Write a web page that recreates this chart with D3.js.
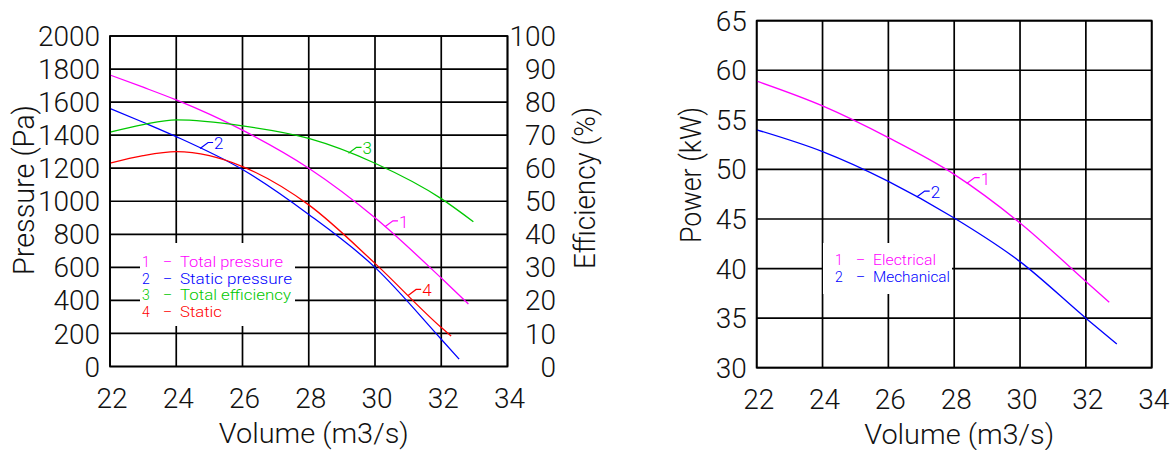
<!DOCTYPE html>
<html>
  <head>
    <script src="https://d3js.org/d3.v7.min.js"></script>
    <style>
      body { margin: 0; background-color: #fff; }
      text { font-family: Roboto, 'Liberation Sans', sans-serif; font-weight: 300; }
    </style>
  </head>
  <body>
    <svg id="canvas" width="1176" height="450"></svg>
  </body>

  <script>
    // ---- data ----
    const volumeTicks = [22, 24, 26, 28, 30, 32, 34]
    const pressureTicks = [0, 200, 400, 600, 800, 1000, 1200, 1400, 1600, 1800, 2000]
    const efficiencyTicks = [0, 10, 20, 30, 40, 50, 60, 70, 80, 90, 100]
    const powerTicks = [30, 35, 40, 45, 50, 55, 60, 65]

    // left chart (Pa and %)
    const volTotalPressure = [22, 23, 24, 26, 28, 30, 32, 32.82]
    const totalPressure = [1764, 1690, 1613, 1430, 1200, 900, 535, 378]
    const volStaticPressure = [22, 23, 24, 26, 28, 30, 32, 32.54]
    const staticPressure = [1562, 1478, 1391, 1192, 920, 600, 165, 45]
    const volTotalEff = [22, 23, 24, 26, 28, 30, 32, 32.97]
    const totalEff = [70.9, 73.2, 74.6, 72.8, 69.0, 61.5, 50.8, 43.8]
    const volStaticEff = [22, 23, 24, 25, 26, 28, 30, 32, 32.3]
    const staticEff = [61.5, 63.8, 65.0, 63.8, 60.5, 48.9, 31.2, 11.8, 9.2]

    // right chart (kW)
    const volElectrical = [22, 24, 26, 28, 30, 32, 32.71]
    const electrical = [58.9, 56.4, 53.2, 49.5, 44.6, 38.7, 36.6]
    const volMechanical = [22, 24, 26, 28, 30, 32, 32.94]
    const mechanical = [54.0, 51.8, 48.8, 45.1, 40.7, 35.0, 32.4]

    const pressureLegend = ['Total pressure', 'Static pressure', 'Total efficiency', 'Static']
    const powerLegend = ['Electrical', 'Mechanical']

    const colors = ['#ff00ff', '#0000ff', '#00c800', '#ff0000']

    const svg = d3.select('#canvas')
    const zip = (xs, ys) => xs.map((x, i) => [x, ys[i]])

    // grid + tick labels for one chart
    function drawFrame (x, y, yTicks, box) {
      const g = svg.append('g')
      const [x0, x1] = x.range()
      const [y0, y1] = y.range()

      g.selectAll('line.v').data(volumeTicks).join('line')
        .attr('x1', d => x(d)).attr('x2', d => x(d))
        .attr('y1', y0).attr('y2', y1)
        .attr('stroke', '#000').attr('stroke-width', 1.7)
      g.selectAll('line.h').data(yTicks).join('line')
        .attr('x1', x0).attr('x2', x1)
        .attr('y1', d => y(d)).attr('y2', d => y(d))
        .attr('stroke', '#000').attr('stroke-width', 1.7)

      // white box behind the legend breaks the grid
      g.append('rect')
        .attr('x', box[0]).attr('y', box[1])
        .attr('width', box[2]).attr('height', box[3])
        .attr('fill', '#fff')

      g.selectAll('text.x').data(volumeTicks).join('text')
        .attr('x', d => x(d) + 2).attr('y', y0 + 41)
        .attr('text-anchor', 'middle')
        .attr('font-size', 28).attr('fill', '#111')
        .text(d => d)
      g.selectAll('text.y').data(yTicks).join('text')
        .attr('x', x0 - 10).attr('y', d => y(d)).attr('dy', '0.36em')
        .attr('text-anchor', 'end')
        .attr('font-size', 28).attr('fill', '#111')
        .text(d => d)

      g.append('text')
        .attr('x', (x0 + x1) / 2 + 5).attr('y', y0 + 76)
        .attr('text-anchor', 'middle')
        .attr('font-size', 27).attr('fill', '#111')
        .attr('textLength', 190).attr('lengthAdjust', 'spacingAndGlyphs')
        .text('Volume (m3/s)')
      return g
    }

    const line = (x, y) => d3.line().x(d => x(d[0])).y(d => y(d[1])).curve(d3.curveMonotoneX)

    // value on a curve at volume v (straight-line between read points)
    const valueAt = (pts, v) => {
      for (let i = 1; i < pts.length; i++) {
        if (v <= pts[i][0]) {
          const t = (v - pts[i - 1][0]) / (pts[i][0] - pts[i - 1][0])
          return pts[i - 1][1] + t * (pts[i][1] - pts[i - 1][1])
        }
      }
      return pts[pts.length - 1][1]
    }

    function tag (g, x, y, pts, v, num, color) {
      const ax = x(v), ay = y(valueAt(pts, v))
      g.append('path')
        .attr('d', `M${ax},${ay} L${ax + 8},${ay - 6} L${ax + 13},${ay - 6}`)
        .attr('fill', 'none').attr('stroke', color).attr('stroke-width', 1.2)
      g.append('text')
        .attr('x', ax + 14).attr('y', ay + 1)
        .attr('font-size', 17).attr('fill', color)
        .text(num)
    }

    function legend (g, names, left, top, step, widths) {
      names.forEach((name, i) => {
        const yy = top + i * step
        g.append('text').attr('x', left).attr('y', yy)
          .attr('font-size', 14).attr('fill', colors[i]).text(i + 1)
        g.append('text').attr('x', left + 21).attr('y', yy)
          .attr('font-size', 14).attr('fill', colors[i]).text('–')
        g.append('text').attr('x', left + 38).attr('y', yy)
          .attr('font-size', 14).attr('fill', colors[i])
          .attr('textLength', widths[i]).attr('lengthAdjust', 'spacingAndGlyphs')
          .text(name)
      })
    }

    // ---- left chart: pressure / efficiency ----
    const xL = d3.scaleLinear().domain([22, 34]).range([110, 507.5])
    const yP = d3.scaleLinear().domain([0, 2000]).range([366.5, 36])
    const yE = d3.scaleLinear().domain([0, 100]).range([366.5, 36])

    const gL = drawFrame(xL, yP, pressureTicks, [140, 243, 155, 83])

    gL.selectAll('text.e').data(efficiencyTicks).join('text')
      .attr('x', 556).attr('y', d => yE(d)).attr('dy', '0.36em')
      .attr('text-anchor', 'end')
      .attr('font-size', 28).attr('fill', '#111')
      .text(d => d)

    gL.append('text')
      .attr('transform', 'translate(34,190) rotate(-90)')
      .attr('text-anchor', 'middle')
      .attr('font-size', 29).attr('fill', '#111')
      .attr('textLength', 170).attr('lengthAdjust', 'spacingAndGlyphs')
      .text('Pressure (Pa)')
    gL.append('text')
      .attr('transform', 'translate(595,188) rotate(-90)')
      .attr('text-anchor', 'middle')
      .attr('font-size', 29).attr('fill', '#111')
      .attr('textLength', 162).attr('lengthAdjust', 'spacingAndGlyphs')
      .text('Efficiency (%)')

    const tpPts = zip(volTotalPressure, totalPressure)
    const spPts = zip(volStaticPressure, staticPressure)
    const tePts = zip(volTotalEff, totalEff)
    const sePts = zip(volStaticEff, staticEff)

    const leftSeries = [
      { pts: tpPts, y: yP, tagAt: 30.3 },
      { pts: spPts, y: yP, tagAt: 24.72 },
      { pts: tePts, y: yE, tagAt: 29.2 },
      { pts: sePts, y: yE, tagAt: 31.0 }
    ]
    leftSeries.forEach((s, i) => {
      gL.append('path')
        .attr('d', line(xL, s.y)(s.pts))
        .attr('fill', 'none').attr('stroke', colors[i]).attr('stroke-width', 1.3)
      tag(gL, xL, s.y, s.pts, s.tagAt, i + 1, colors[i])
    })

    gL.append('rect')
      .attr('x', 110).attr('y', 36).attr('width', 397.5).attr('height', 330.5)
      .attr('fill', 'none').attr('stroke', '#000').attr('stroke-width', 1.7)

    legend(gL, pressureLegend, 142, 267, 16.7, [103, 112, 111, 42])

    // ---- right chart: power ----
    const xR = d3.scaleLinear().domain([22, 34]).range([756.7, 1151.7])
    const yW = d3.scaleLinear().domain([30, 65]).range([367.7, 20.7])

    const gR = drawFrame(xR, yW, powerTicks, [823, 243, 129, 51])

    gR.append('text')
      .attr('transform', 'translate(701,175) rotate(-90)')
      .attr('text-anchor', 'middle')
      .attr('font-size', 29).attr('fill', '#111')
      .attr('textLength', 136).attr('lengthAdjust', 'spacingAndGlyphs')
      .text('Power (kW)')

    const elPts = zip(volElectrical, electrical)
    const mePts = zip(volMechanical, mechanical)
    const rightSeries = [
      { pts: elPts, tagAt: 28.38 },
      { pts: mePts, tagAt: 26.86 }
    ]
    rightSeries.forEach((s, i) => {
      gR.append('path')
        .attr('d', line(xR, yW)(s.pts))
        .attr('fill', 'none').attr('stroke', colors[i]).attr('stroke-width', 1.3)
      tag(gR, xR, yW, s.pts, s.tagAt, i + 1, colors[i])
    })

    gR.append('rect')
      .attr('x', 756.7).attr('y', 20.7).attr('width', 395).attr('height', 347)
      .attr('fill', 'none').attr('stroke', '#000').attr('stroke-width', 1.7)

    legend(gR, powerLegend, 835, 265, 16.7, [63, 77])
  </script>
</html>
